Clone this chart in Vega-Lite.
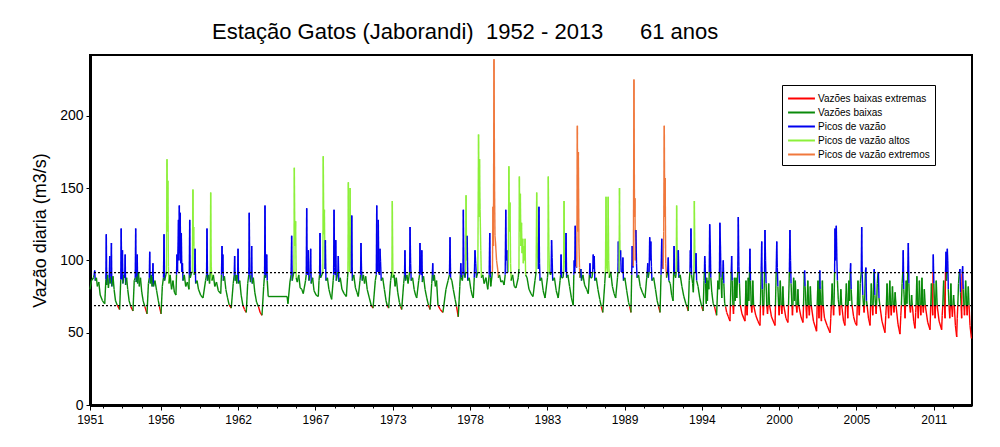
{
"$schema":"https://vega.github.io/schema/vega-lite/v6.json",
"width":882,"height":350,
"autosize":{"type":"none"},
"padding":{"left":90,"top":55,"right":28,"bottom":42},
"background":"white",
"config":{"font":"Liberation Sans","view":{"stroke":"black","strokeWidth":2}},
"title":{"text":"Estação Gatos (Jaborandi)\u00a0 1952 - 2013\u00a0\u00a0\u00a0\u00a0\u00a0 61 anos","anchor":"start","frame":"group","dx":122,"dy":25,"offset":14,"baseline":"bottom","fontSize":22,"fontWeight":"normal","color":"black"},
"layer":[
{"data":{"values":[
{"t":1951.70,"v":80,"c":"g"},{"t":1951.80,"v":86,"c":"g"},{"t":1951.95,"v":88,"c":"g"},{"t":1951.99,"v":90,"c":"b"},{"t":1952.03,"v":93,"c":"b"},{"t":1952.07,"v":86,"c":"g"},{"t":1952.15,"v":88,"c":"g"},{"t":1952.22,"v":82,"c":"g"},{"t":1952.32,"v":85,"c":"g"},{"t":1952.42,"v":76,"c":"g"},{"t":1952.58,"v":72,"c":"g"},
{"t":1952.74,"v":70,"c":"g"},{"t":1952.82,"v":87,"c":"b"},{"t":1952.85,"v":118,"c":"b"},{"t":1952.88,"v":83,"c":"g"},{"t":1952.94,"v":90,"c":"g"},{"t":1953.00,"v":81,"c":"g"},{"t":1953.06,"v":88,"c":"b"},{"t":1953.09,"v":103,"c":"b"},{"t":1953.12,"v":84,"c":"g"},{"t":1953.18,"v":89,"c":"b"},{"t":1953.21,"v":112,"c":"b"},{"t":1953.24,"v":82,"c":"g"},{"t":1953.32,"v":89,"c":"g"},{"t":1953.40,"v":80,"c":"g"},{"t":1953.50,"v":72,"c":"g"},{"t":1953.62,"v":69,"c":"r"},
{"t":1953.79,"v":66,"c":"g"},{"t":1953.87,"v":87,"c":"b"},{"t":1953.90,"v":122,"c":"b"},{"t":1953.94,"v":87,"c":"b"},{"t":1953.99,"v":107,"c":"b"},{"t":1954.02,"v":84,"c":"g"},{"t":1954.10,"v":90,"c":"g"},{"t":1954.15,"v":88,"c":"b"},{"t":1954.18,"v":104,"c":"b"},{"t":1954.21,"v":83,"c":"g"},{"t":1954.28,"v":88,"c":"g"},{"t":1954.36,"v":80,"c":"g"},{"t":1954.46,"v":72,"c":"g"},{"t":1954.58,"v":68,"c":"r"},
{"t":1954.73,"v":65,"c":"g"},{"t":1954.82,"v":86,"c":"g"},{"t":1954.89,"v":88,"c":"b"},{"t":1954.92,"v":122,"c":"b"},{"t":1954.96,"v":85,"c":"g"},{"t":1955.00,"v":89,"c":"b"},{"t":1955.03,"v":104,"c":"b"},{"t":1955.06,"v":84,"c":"g"},{"t":1955.12,"v":92,"c":"g"},{"t":1955.18,"v":82,"c":"g"},{"t":1955.26,"v":88,"c":"g"},{"t":1955.35,"v":78,"c":"g"},{"t":1955.45,"v":72,"c":"g"},{"t":1955.57,"v":68,"c":"r"},
{"t":1955.72,"v":63,"c":"g"},{"t":1955.82,"v":84,"c":"g"},{"t":1955.88,"v":88,"c":"b"},{"t":1955.91,"v":106,"c":"b"},{"t":1955.95,"v":84,"c":"g"},{"t":1956.02,"v":90,"c":"g"},{"t":1956.08,"v":82,"c":"g"},{"t":1956.11,"v":89,"c":"b"},{"t":1956.14,"v":98,"c":"b"},{"t":1956.18,"v":82,"c":"g"},{"t":1956.28,"v":86,"c":"g"},{"t":1956.40,"v":79,"c":"g"},{"t":1956.52,"v":72,"c":"g"},{"t":1956.60,"v":68,"c":"r"},
{"t":1956.71,"v":63,"c":"g"},{"t":1956.80,"v":82,"c":"g"},{"t":1956.88,"v":88,"c":"b"},{"t":1956.92,"v":118,"c":"b"},{"t":1956.96,"v":86,"c":"g"},{"t":1957.05,"v":90,"c":"g"},{"t":1957.09,"v":92,"c":"l"},{"t":1957.13,"v":170,"c":"l"},{"t":1957.16,"v":120,"c":"l"},{"t":1957.19,"v":155,"c":"l"},{"t":1957.23,"v":96,"c":"l"},{"t":1957.27,"v":84,"c":"g"},{"t":1957.35,"v":90,"c":"g"},{"t":1957.45,"v":80,"c":"g"},{"t":1957.55,"v":86,"c":"g"},{"t":1957.65,"v":78,"c":"g"},
{"t":1957.76,"v":76,"c":"g"},{"t":1957.80,"v":90,"c":"b"},{"t":1957.83,"v":104,"c":"b"},{"t":1957.87,"v":92,"c":"b"},{"t":1957.94,"v":128,"c":"b"},{"t":1957.97,"v":100,"c":"b"},{"t":1958.00,"v":138,"c":"b"},{"t":1958.03,"v":105,"c":"b"},{"t":1958.06,"v":133,"c":"b"},{"t":1958.10,"v":98,"c":"b"},{"t":1958.14,"v":119,"c":"b"},{"t":1958.18,"v":92,"c":"b"},{"t":1958.22,"v":98,"c":"b"},{"t":1958.26,"v":86,"c":"g"},{"t":1958.35,"v":90,"c":"g"},{"t":1958.45,"v":82,"c":"g"},{"t":1958.57,"v":85,"c":"g"},
{"t":1958.68,"v":80,"c":"g"},{"t":1958.70,"v":90,"c":"b"},{"t":1958.73,"v":128,"c":"b"},{"t":1958.77,"v":88,"c":"g"},{"t":1958.85,"v":91,"c":"g"},{"t":1958.92,"v":92,"c":"l"},{"t":1958.96,"v":149,"c":"l"},{"t":1958.99,"v":110,"c":"l"},{"t":1959.01,"v":123,"c":"l"},{"t":1959.05,"v":90,"c":"g"},{"t":1959.08,"v":92,"c":"b"},{"t":1959.11,"v":108,"c":"b"},{"t":1959.15,"v":84,"c":"g"},{"t":1959.25,"v":86,"c":"g"},{"t":1959.35,"v":80,"c":"g"},{"t":1959.50,"v":76,"c":"g"},
{"t":1959.67,"v":74,"c":"g"},{"t":1959.85,"v":86,"c":"g"},{"t":1959.92,"v":90,"c":"b"},{"t":1959.95,"v":122,"c":"b"},{"t":1959.99,"v":86,"c":"g"},{"t":1960.06,"v":90,"c":"g"},{"t":1960.13,"v":84,"c":"g"},{"t":1960.18,"v":92,"c":"l"},{"t":1960.21,"v":147,"c":"l"},{"t":1960.25,"v":96,"c":"l"},{"t":1960.30,"v":86,"c":"g"},{"t":1960.40,"v":90,"c":"g"},{"t":1960.50,"v":82,"c":"g"},{"t":1960.62,"v":85,"c":"g"},{"t":1960.75,"v":79,"c":"g"},
{"t":1960.92,"v":77,"c":"g"},{"t":1960.97,"v":90,"c":"b"},{"t":1961.01,"v":110,"c":"b"},{"t":1961.04,"v":92,"c":"b"},{"t":1961.07,"v":104,"c":"b"},{"t":1961.10,"v":86,"c":"g"},{"t":1961.18,"v":89,"c":"g"},{"t":1961.28,"v":80,"c":"g"},{"t":1961.40,"v":74,"c":"g"},{"t":1961.52,"v":69,"c":"r"},
{"t":1961.66,"v":67,"c":"g"},{"t":1961.80,"v":84,"c":"g"},{"t":1961.87,"v":90,"c":"b"},{"t":1961.90,"v":103,"c":"b"},{"t":1961.94,"v":86,"c":"g"},{"t":1962.00,"v":90,"c":"g"},{"t":1962.05,"v":84,"c":"g"},{"t":1962.11,"v":90,"c":"b"},{"t":1962.14,"v":108,"c":"b"},{"t":1962.18,"v":84,"c":"g"},{"t":1962.26,"v":86,"c":"g"},{"t":1962.36,"v":76,"c":"g"},{"t":1962.48,"v":69,"c":"r"},{"t":1962.60,"v":66,"c":"r"},
{"t":1962.72,"v":64,"c":"g"},{"t":1962.82,"v":84,"c":"g"},{"t":1962.90,"v":90,"c":"b"},{"t":1962.93,"v":133,"c":"b"},{"t":1962.97,"v":90,"c":"b"},{"t":1963.02,"v":85,"c":"g"},{"t":1963.07,"v":90,"c":"b"},{"t":1963.10,"v":110,"c":"b"},{"t":1963.14,"v":84,"c":"g"},{"t":1963.22,"v":88,"c":"g"},{"t":1963.32,"v":78,"c":"g"},{"t":1963.45,"v":71,"c":"g"},{"t":1963.58,"v":68,"c":"r"},{"t":1963.70,"v":64,"c":"r"},
{"t":1963.83,"v":62,"c":"g"},{"t":1963.95,"v":82,"c":"g"},{"t":1964.01,"v":90,"c":"b"},{"t":1964.04,"v":138,"c":"b"},{"t":1964.08,"v":88,"c":"g"},{"t":1964.13,"v":90,"c":"b"},{"t":1964.16,"v":104,"c":"b"},{"t":1964.20,"v":86,"c":"g"},{"t":1964.27,"v":75,"c":"g"},{"t":1965.60,"v":75,"c":"g"},
{"t":1965.66,"v":70,"c":"g"},{"t":1965.80,"v":85,"c":"g"},{"t":1965.88,"v":90,"c":"b"},{"t":1965.92,"v":117,"c":"b"},{"t":1965.96,"v":86,"c":"g"},{"t":1966.04,"v":90,"c":"g"},{"t":1966.08,"v":92,"c":"l"},{"t":1966.11,"v":164,"c":"l"},{"t":1966.15,"v":110,"c":"l"},{"t":1966.20,"v":127,"c":"l"},{"t":1966.24,"v":88,"c":"g"},{"t":1966.32,"v":85,"c":"g"},{"t":1966.42,"v":90,"c":"g"},{"t":1966.52,"v":81,"c":"g"},{"t":1966.63,"v":80,"c":"g"},
{"t":1966.74,"v":77,"c":"g"},{"t":1966.90,"v":86,"c":"g"},{"t":1966.95,"v":90,"c":"b"},{"t":1966.98,"v":136,"c":"b"},{"t":1967.02,"v":92,"c":"b"},{"t":1967.07,"v":90,"c":"b"},{"t":1967.10,"v":107,"c":"b"},{"t":1967.14,"v":86,"c":"g"},{"t":1967.22,"v":90,"c":"b"},{"t":1967.26,"v":108,"c":"b"},{"t":1967.30,"v":84,"c":"g"},{"t":1967.40,"v":88,"c":"g"},{"t":1967.50,"v":79,"c":"g"},{"t":1967.65,"v":76,"c":"g"},
{"t":1967.80,"v":75,"c":"g"},{"t":1967.85,"v":86,"c":"g"},{"t":1967.89,"v":90,"c":"b"},{"t":1967.92,"v":119,"c":"b"},{"t":1967.96,"v":88,"c":"g"},{"t":1968.05,"v":90,"c":"g"},{"t":1968.12,"v":92,"c":"l"},{"t":1968.15,"v":172,"c":"l"},{"t":1968.19,"v":118,"c":"l"},{"t":1968.23,"v":135,"c":"l"},{"t":1968.27,"v":94,"c":"b"},{"t":1968.30,"v":114,"c":"b"},{"t":1968.34,"v":86,"c":"g"},{"t":1968.44,"v":88,"c":"g"},{"t":1968.55,"v":80,"c":"g"},{"t":1968.65,"v":76,"c":"g"},
{"t":1968.74,"v":73,"c":"g"},{"t":1968.85,"v":86,"c":"g"},{"t":1968.88,"v":90,"c":"b"},{"t":1968.91,"v":135,"c":"b"},{"t":1968.95,"v":95,"c":"b"},{"t":1969.00,"v":90,"c":"b"},{"t":1969.03,"v":114,"c":"b"},{"t":1969.07,"v":86,"c":"g"},{"t":1969.15,"v":90,"c":"g"},{"t":1969.18,"v":92,"c":"b"},{"t":1969.21,"v":103,"c":"b"},{"t":1969.25,"v":85,"c":"g"},{"t":1969.35,"v":88,"c":"g"},{"t":1969.47,"v":80,"c":"g"},{"t":1969.62,"v":77,"c":"g"},
{"t":1969.78,"v":75,"c":"g"},{"t":1969.86,"v":88,"c":"g"},{"t":1969.89,"v":92,"c":"l"},{"t":1969.92,"v":154,"c":"l"},{"t":1969.96,"v":100,"c":"l"},{"t":1970.00,"v":92,"c":"l"},{"t":1970.04,"v":150,"c":"l"},{"t":1970.08,"v":105,"c":"l"},{"t":1970.13,"v":92,"c":"b"},{"t":1970.16,"v":131,"c":"b"},{"t":1970.20,"v":86,"c":"g"},{"t":1970.30,"v":90,"c":"g"},{"t":1970.42,"v":81,"c":"g"},{"t":1970.52,"v":78,"c":"g"},
{"t":1970.62,"v":75,"c":"g"},{"t":1970.74,"v":86,"c":"g"},{"t":1970.78,"v":90,"c":"b"},{"t":1970.81,"v":112,"c":"b"},{"t":1970.85,"v":93,"c":"b"},{"t":1970.90,"v":86,"c":"g"},{"t":1970.98,"v":90,"c":"g"},{"t":1971.06,"v":84,"c":"g"},{"t":1971.14,"v":89,"c":"g"},{"t":1971.25,"v":80,"c":"g"},{"t":1971.40,"v":74,"c":"g"},{"t":1971.53,"v":69,"c":"r"},
{"t":1971.66,"v":67,"c":"g"},{"t":1971.82,"v":86,"c":"g"},{"t":1971.89,"v":90,"c":"b"},{"t":1971.92,"v":138,"c":"b"},{"t":1971.96,"v":96,"c":"b"},{"t":1972.00,"v":92,"c":"b"},{"t":1972.03,"v":128,"c":"b"},{"t":1972.07,"v":92,"c":"b"},{"t":1972.12,"v":90,"c":"b"},{"t":1972.15,"v":108,"c":"b"},{"t":1972.19,"v":99,"c":"b"},{"t":1972.24,"v":86,"c":"g"},{"t":1972.34,"v":88,"c":"g"},{"t":1972.46,"v":80,"c":"g"},{"t":1972.58,"v":72,"c":"g"},{"t":1972.66,"v":69,"c":"r"},
{"t":1972.76,"v":67,"c":"g"},{"t":1972.90,"v":86,"c":"g"},{"t":1972.99,"v":92,"c":"l"},{"t":1973.02,"v":141,"c":"l"},{"t":1973.06,"v":88,"c":"g"},{"t":1973.14,"v":90,"c":"g"},{"t":1973.22,"v":82,"c":"g"},{"t":1973.30,"v":88,"c":"g"},{"t":1973.40,"v":78,"c":"g"},{"t":1973.52,"v":71,"c":"g"},{"t":1973.60,"v":68,"c":"r"},
{"t":1973.68,"v":66,"c":"g"},{"t":1973.82,"v":84,"c":"g"},{"t":1973.88,"v":90,"c":"b"},{"t":1973.91,"v":107,"c":"b"},{"t":1973.95,"v":86,"c":"g"},{"t":1974.05,"v":90,"c":"g"},{"t":1974.13,"v":84,"c":"g"},{"t":1974.24,"v":92,"c":"b"},{"t":1974.27,"v":123,"c":"b"},{"t":1974.31,"v":98,"c":"b"},{"t":1974.35,"v":86,"c":"g"},{"t":1974.45,"v":88,"c":"g"},{"t":1974.56,"v":80,"c":"g"},{"t":1974.66,"v":76,"c":"g"},
{"t":1974.74,"v":74,"c":"g"},{"t":1974.88,"v":86,"c":"g"},{"t":1974.94,"v":90,"c":"b"},{"t":1974.97,"v":112,"c":"b"},{"t":1975.01,"v":92,"c":"b"},{"t":1975.07,"v":90,"c":"b"},{"t":1975.10,"v":107,"c":"b"},{"t":1975.14,"v":85,"c":"g"},{"t":1975.22,"v":89,"c":"g"},{"t":1975.33,"v":80,"c":"g"},{"t":1975.45,"v":74,"c":"g"},{"t":1975.57,"v":69,"c":"r"},
{"t":1975.68,"v":66,"c":"g"},{"t":1975.80,"v":84,"c":"g"},{"t":1975.84,"v":90,"c":"b"},{"t":1975.87,"v":98,"c":"b"},{"t":1975.91,"v":86,"c":"g"},{"t":1975.98,"v":90,"c":"g"},{"t":1976.06,"v":82,"c":"g"},{"t":1976.14,"v":86,"c":"g"},{"t":1976.24,"v":69,"c":"r"},{"t":1976.40,"v":66,"c":"r"},
{"t":1976.59,"v":64,"c":"g"},{"t":1976.80,"v":80,"c":"g"},{"t":1976.95,"v":86,"c":"g"},{"t":1977.05,"v":90,"c":"b"},{"t":1977.09,"v":116,"c":"b"},{"t":1977.13,"v":88,"c":"g"},{"t":1977.22,"v":86,"c":"g"},{"t":1977.32,"v":80,"c":"g"},{"t":1977.45,"v":73,"c":"g"},{"t":1977.55,"v":68,"c":"r"},
{"t":1977.67,"v":61,"c":"g"},{"t":1977.78,"v":82,"c":"g"},{"t":1977.82,"v":90,"c":"b"},{"t":1977.85,"v":98,"c":"b"},{"t":1977.89,"v":88,"c":"g"},{"t":1977.96,"v":86,"c":"g"},{"t":1978.00,"v":90,"c":"b"},{"t":1978.03,"v":135,"c":"b"},{"t":1978.07,"v":92,"c":"b"},{"t":1978.15,"v":88,"c":"g"},{"t":1978.19,"v":92,"c":"l"},{"t":1978.22,"v":145,"c":"l"},{"t":1978.26,"v":100,"c":"l"},{"t":1978.30,"v":117,"c":"b"},{"t":1978.34,"v":86,"c":"g"},{"t":1978.44,"v":88,"c":"g"},{"t":1978.56,"v":80,"c":"g"},{"t":1978.65,"v":76,"c":"g"},
{"t":1978.73,"v":74,"c":"g"},{"t":1978.80,"v":88,"c":"b"},{"t":1978.85,"v":107,"c":"b"},{"t":1978.90,"v":98,"c":"b"},{"t":1978.95,"v":88,"c":"g"},{"t":1979.05,"v":92,"c":"l"},{"t":1979.10,"v":187,"c":"l"},{"t":1979.14,"v":130,"c":"l"},{"t":1979.17,"v":170,"c":"l"},{"t":1979.21,"v":135,"c":"l"},{"t":1979.26,"v":107,"c":"l"},{"t":1979.30,"v":88,"c":"g"},{"t":1979.40,"v":90,"c":"g"},{"t":1979.50,"v":84,"c":"g"},{"t":1979.62,"v":88,"c":"g"},{"t":1979.75,"v":80,"c":"g"},{"t":1979.85,"v":90,"c":"b"},{"t":1979.89,"v":119,"c":"b"},{"t":1979.93,"v":88,"c":"g"},
{"t":1979.96,"v":82,"c":"g"},{"t":1980.08,"v":92,"c":"o"},{"t":1980.12,"v":137,"c":"o"},{"t":1980.15,"v":110,"c":"o"},{"t":1980.19,"v":239,"c":"o"},{"t":1980.23,"v":150,"c":"o"},{"t":1980.26,"v":117,"c":"o"},{"t":1980.30,"v":112,"c":"o"},{"t":1980.37,"v":100,"c":"o"},{"t":1980.45,"v":94,"c":"o"},{"t":1980.50,"v":88,"c":"g"},{"t":1980.58,"v":90,"c":"g"},{"t":1980.68,"v":85,"c":"g"},{"t":1980.80,"v":86,"c":"g"},
{"t":1980.90,"v":83,"c":"g"},{"t":1980.98,"v":90,"c":"b"},{"t":1981.02,"v":135,"c":"b"},{"t":1981.06,"v":100,"c":"b"},{"t":1981.10,"v":107,"c":"b"},{"t":1981.14,"v":92,"c":"b"},{"t":1981.20,"v":92,"c":"l"},{"t":1981.24,"v":165,"c":"l"},{"t":1981.28,"v":120,"c":"l"},{"t":1981.32,"v":140,"c":"l"},{"t":1981.36,"v":98,"c":"l"},{"t":1981.40,"v":86,"c":"g"},{"t":1981.50,"v":90,"c":"g"},{"t":1981.62,"v":82,"c":"g"},
{"t":1981.74,"v":81,"c":"g"},{"t":1981.90,"v":88,"c":"g"},{"t":1981.95,"v":94,"c":"l"},{"t":1981.98,"v":158,"c":"l"},{"t":1982.02,"v":120,"c":"l"},{"t":1982.05,"v":146,"c":"l"},{"t":1982.09,"v":110,"c":"l"},{"t":1982.13,"v":126,"c":"l"},{"t":1982.17,"v":105,"c":"l"},{"t":1982.22,"v":115,"c":"l"},{"t":1982.26,"v":98,"c":"l"},{"t":1982.31,"v":110,"c":"l"},{"t":1982.35,"v":100,"c":"l"},{"t":1982.38,"v":115,"c":"l"},{"t":1982.42,"v":90,"c":"g"},{"t":1982.52,"v":88,"c":"g"},{"t":1982.66,"v":80,"c":"g"},{"t":1982.80,"v":77,"c":"g"},
{"t":1982.94,"v":75,"c":"g"},{"t":1983.08,"v":86,"c":"g"},{"t":1983.16,"v":92,"c":"l"},{"t":1983.20,"v":147,"c":"l"},{"t":1983.24,"v":110,"c":"l"},{"t":1983.32,"v":94,"c":"b"},{"t":1983.36,"v":137,"c":"b"},{"t":1983.40,"v":98,"c":"b"},{"t":1983.44,"v":86,"c":"g"},{"t":1983.54,"v":88,"c":"g"},{"t":1983.66,"v":79,"c":"g"},
{"t":1983.79,"v":74,"c":"g"},{"t":1983.96,"v":88,"c":"g"},{"t":1983.99,"v":92,"c":"l"},{"t":1984.02,"v":158,"c":"l"},{"t":1984.06,"v":110,"c":"l"},{"t":1984.10,"v":92,"c":"g"},{"t":1984.18,"v":90,"c":"g"},{"t":1984.22,"v":92,"c":"b"},{"t":1984.25,"v":114,"c":"b"},{"t":1984.29,"v":102,"c":"b"},{"t":1984.33,"v":86,"c":"g"},{"t":1984.45,"v":88,"c":"g"},{"t":1984.58,"v":79,"c":"g"},
{"t":1984.72,"v":74,"c":"g"},{"t":1984.85,"v":86,"c":"g"},{"t":1984.89,"v":90,"c":"b"},{"t":1984.92,"v":104,"c":"b"},{"t":1984.96,"v":88,"c":"g"},{"t":1985.06,"v":88,"c":"g"},{"t":1985.10,"v":92,"c":"l"},{"t":1985.13,"v":141,"c":"l"},{"t":1985.17,"v":100,"c":"l"},{"t":1985.24,"v":92,"c":"b"},{"t":1985.27,"v":119,"c":"b"},{"t":1985.31,"v":88,"c":"g"},{"t":1985.40,"v":90,"c":"g"},{"t":1985.52,"v":82,"c":"g"},{"t":1985.65,"v":74,"c":"g"},
{"t":1985.78,"v":69,"c":"g"},{"t":1985.82,"v":90,"c":"b"},{"t":1985.85,"v":100,"c":"b"},{"t":1985.88,"v":92,"c":"b"},{"t":1985.92,"v":124,"c":"b"},{"t":1985.96,"v":96,"c":"b"},{"t":1986.03,"v":95,"c":"o"},{"t":1986.07,"v":193,"c":"o"},{"t":1986.10,"v":120,"c":"o"},{"t":1986.14,"v":175,"c":"o"},{"t":1986.18,"v":112,"c":"o"},{"t":1986.22,"v":95,"c":"o"},{"t":1986.26,"v":88,"c":"g"},{"t":1986.32,"v":94,"c":"b"},{"t":1986.36,"v":86,"c":"g"},{"t":1986.46,"v":90,"c":"g"},{"t":1986.58,"v":83,"c":"g"},{"t":1986.72,"v":80,"c":"g"},
{"t":1986.84,"v":77,"c":"g"},{"t":1986.92,"v":90,"c":"b"},{"t":1986.96,"v":98,"c":"b"},{"t":1987.00,"v":88,"c":"g"},{"t":1987.10,"v":88,"c":"g"},{"t":1987.15,"v":92,"c":"b"},{"t":1987.19,"v":104,"c":"b"},{"t":1987.23,"v":94,"c":"b"},{"t":1987.26,"v":103,"c":"b"},{"t":1987.30,"v":86,"c":"g"},{"t":1987.40,"v":88,"c":"g"},{"t":1987.52,"v":80,"c":"g"},{"t":1987.65,"v":73,"c":"g"},{"t":1987.76,"v":68,"c":"r"},
{"t":1987.86,"v":64,"c":"g"},{"t":1988.00,"v":84,"c":"g"},{"t":1988.05,"v":92,"c":"l"},{"t":1988.09,"v":144,"c":"l"},{"t":1988.13,"v":96,"c":"l"},{"t":1988.20,"v":92,"c":"l"},{"t":1988.24,"v":144,"c":"l"},{"t":1988.28,"v":100,"c":"l"},{"t":1988.32,"v":88,"c":"g"},{"t":1988.42,"v":92,"c":"g"},{"t":1988.54,"v":82,"c":"g"},{"t":1988.66,"v":77,"c":"g"},
{"t":1988.77,"v":74,"c":"g"},{"t":1988.90,"v":88,"c":"g"},{"t":1988.93,"v":92,"c":"b"},{"t":1988.96,"v":113,"c":"b"},{"t":1988.99,"v":96,"c":"b"},{"t":1989.01,"v":92,"c":"l"},{"t":1989.04,"v":150,"c":"l"},{"t":1989.08,"v":100,"c":"l"},{"t":1989.12,"v":107,"c":"b"},{"t":1989.16,"v":92,"c":"b"},{"t":1989.24,"v":92,"c":"b"},{"t":1989.28,"v":102,"c":"b"},{"t":1989.32,"v":86,"c":"g"},{"t":1989.42,"v":88,"c":"g"},{"t":1989.55,"v":79,"c":"g"},{"t":1989.68,"v":71,"c":"g"},{"t":1989.76,"v":68,"c":"r"},
{"t":1989.85,"v":64,"c":"g"},{"t":1989.90,"v":90,"c":"b"},{"t":1989.94,"v":110,"c":"b"},{"t":1989.98,"v":95,"c":"b"},{"t":1990.02,"v":96,"c":"o"},{"t":1990.06,"v":225,"c":"o"},{"t":1990.10,"v":130,"c":"o"},{"t":1990.13,"v":143,"c":"o"},{"t":1990.16,"v":100,"c":"o"},{"t":1990.20,"v":121,"c":"b"},{"t":1990.24,"v":98,"c":"b"},{"t":1990.28,"v":88,"c":"g"},{"t":1990.38,"v":90,"c":"g"},{"t":1990.50,"v":82,"c":"g"},{"t":1990.65,"v":78,"c":"g"},
{"t":1990.84,"v":74,"c":"g"},{"t":1990.96,"v":88,"c":"g"},{"t":1991.00,"v":92,"c":"b"},{"t":1991.03,"v":98,"c":"b"},{"t":1991.07,"v":88,"c":"g"},{"t":1991.13,"v":92,"c":"b"},{"t":1991.17,"v":116,"c":"b"},{"t":1991.21,"v":100,"c":"b"},{"t":1991.25,"v":113,"c":"b"},{"t":1991.29,"v":96,"c":"b"},{"t":1991.33,"v":86,"c":"g"},{"t":1991.45,"v":88,"c":"g"},{"t":1991.58,"v":80,"c":"g"},{"t":1991.70,"v":72,"c":"g"},{"t":1991.80,"v":68,"c":"r"},
{"t":1991.90,"v":64,"c":"g"},{"t":1991.97,"v":90,"c":"b"},{"t":1992.02,"v":115,"c":"b"},{"t":1992.06,"v":96,"c":"b"},{"t":1992.12,"v":94,"c":"o"},{"t":1992.16,"v":120,"c":"o"},{"t":1992.20,"v":193,"c":"o"},{"t":1992.23,"v":130,"c":"o"},{"t":1992.26,"v":157,"c":"o"},{"t":1992.30,"v":98,"c":"o"},{"t":1992.36,"v":88,"c":"g"},{"t":1992.44,"v":92,"c":"b"},{"t":1992.48,"v":102,"c":"b"},{"t":1992.52,"v":86,"c":"g"},{"t":1992.62,"v":84,"c":"g"},{"t":1992.72,"v":76,"c":"g"},
{"t":1992.82,"v":72,"c":"g"},{"t":1992.86,"v":92,"c":"b"},{"t":1992.89,"v":110,"c":"b"},{"t":1992.93,"v":90,"c":"g"},{"t":1993.00,"v":88,"c":"g"},{"t":1993.04,"v":92,"c":"l"},{"t":1993.07,"v":138,"c":"l"},{"t":1993.11,"v":100,"c":"l"},{"t":1993.16,"v":92,"c":"b"},{"t":1993.19,"v":107,"c":"b"},{"t":1993.23,"v":88,"c":"g"},{"t":1993.32,"v":90,"c":"g"},{"t":1993.44,"v":82,"c":"g"},{"t":1993.58,"v":75,"c":"g"},{"t":1993.72,"v":70,"c":"g"},{"t":1993.80,"v":68,"c":"r"},
{"t":1993.89,"v":65,"c":"g"},{"t":1993.96,"v":86,"c":"g"},{"t":1994.01,"v":92,"c":"b"},{"t":1994.04,"v":107,"c":"b"},{"t":1994.06,"v":95,"c":"b"},{"t":1994.08,"v":122,"c":"b"},{"t":1994.12,"v":90,"c":"g"},{"t":1994.20,"v":84,"c":"g"},{"t":1994.25,"v":78,"c":"g"},{"t":1994.29,"v":92,"c":"l"},{"t":1994.32,"v":141,"c":"l"},{"t":1994.36,"v":100,"c":"l"},{"t":1994.41,"v":92,"c":"b"},{"t":1994.44,"v":105,"c":"b"},{"t":1994.48,"v":86,"c":"g"},{"t":1994.58,"v":82,"c":"g"},{"t":1994.70,"v":74,"c":"g"},{"t":1994.84,"v":68,"c":"r"},
{"t":1994.94,"v":65,"c":"g"},{"t":1995.00,"v":86,"c":"g"},{"t":1995.03,"v":92,"c":"b"},{"t":1995.05,"v":103,"c":"b"},{"t":1995.08,"v":98,"c":"b"},{"t":1995.11,"v":84,"c":"g"},{"t":1995.16,"v":70,"c":"g"},{"t":1995.19,"v":88,"c":"g"},{"t":1995.24,"v":72,"c":"g"},{"t":1995.28,"v":86,"c":"g"},{"t":1995.34,"v":80,"c":"g"},{"t":1995.37,"v":92,"c":"b"},{"t":1995.40,"v":125,"c":"b"},{"t":1995.44,"v":112,"c":"b"},{"t":1995.48,"v":88,"c":"g"},{"t":1995.55,"v":78,"c":"g"},{"t":1995.65,"v":70,"c":"g"},{"t":1995.74,"v":68,"c":"r"},
{"t":1995.89,"v":62,"c":"g"},{"t":1995.98,"v":86,"c":"g"},{"t":1996.06,"v":80,"c":"g"},{"t":1996.09,"v":92,"c":"b"},{"t":1996.12,"v":126,"c":"b"},{"t":1996.16,"v":110,"c":"b"},{"t":1996.20,"v":88,"c":"g"},{"t":1996.25,"v":74,"c":"g"},{"t":1996.28,"v":86,"c":"g"},{"t":1996.33,"v":92,"c":"b"},{"t":1996.36,"v":100,"c":"b"},{"t":1996.40,"v":84,"c":"g"},{"t":1996.46,"v":70,"c":"g"},{"t":1996.52,"v":68,"c":"r"},{"t":1996.60,"v":64,"c":"r"},{"t":1996.72,"v":61,"c":"r"},
{"t":1996.83,"v":58,"c":"r"},{"t":1996.86,"v":69,"c":"g"},{"t":1996.92,"v":92,"c":"b"},{"t":1996.95,"v":103,"c":"b"},{"t":1996.99,"v":86,"c":"g"},{"t":1997.04,"v":69,"c":"r"},{"t":1997.08,"v":63,"c":"r"},{"t":1997.11,"v":69,"c":"g"},{"t":1997.15,"v":88,"c":"g"},{"t":1997.20,"v":72,"c":"g"},{"t":1997.26,"v":88,"c":"g"},{"t":1997.31,"v":74,"c":"g"},{"t":1997.38,"v":92,"c":"b"},{"t":1997.42,"v":130,"c":"b"},{"t":1997.46,"v":96,"c":"b"},{"t":1997.50,"v":84,"c":"g"},{"t":1997.56,"v":69,"c":"r"},{"t":1997.68,"v":63,"c":"r"},
{"t":1997.89,"v":58,"c":"r"},{"t":1997.92,"v":69,"c":"g"},{"t":1997.96,"v":86,"c":"g"},{"t":1998.00,"v":69,"c":"r"},{"t":1998.04,"v":62,"c":"r"},{"t":1998.07,"v":69,"c":"g"},{"t":1998.12,"v":88,"c":"g"},{"t":1998.16,"v":72,"c":"g"},{"t":1998.21,"v":92,"c":"b"},{"t":1998.24,"v":108,"c":"b"},{"t":1998.28,"v":86,"c":"g"},{"t":1998.33,"v":69,"c":"r"},{"t":1998.37,"v":64,"c":"r"},{"t":1998.40,"v":69,"c":"g"},{"t":1998.44,"v":86,"c":"g"},{"t":1998.50,"v":69,"c":"r"},{"t":1998.65,"v":62,"c":"r"},{"t":1998.80,"v":58,"c":"r"},
{"t":1998.95,"v":55,"c":"r"},{"t":1998.98,"v":69,"c":"g"},{"t":1999.03,"v":92,"c":"b"},{"t":1999.07,"v":113,"c":"b"},{"t":1999.11,"v":80,"c":"g"},{"t":1999.15,"v":69,"c":"r"},{"t":1999.19,"v":62,"c":"r"},{"t":1999.22,"v":69,"c":"g"},{"t":1999.27,"v":92,"c":"b"},{"t":1999.30,"v":121,"c":"b"},{"t":1999.34,"v":100,"c":"b"},{"t":1999.38,"v":84,"c":"g"},{"t":1999.43,"v":69,"c":"r"},{"t":1999.48,"v":63,"c":"r"},{"t":1999.52,"v":69,"c":"g"},{"t":1999.56,"v":84,"c":"g"},{"t":1999.62,"v":69,"c":"r"},{"t":1999.76,"v":61,"c":"r"},
{"t":2000.01,"v":55,"c":"r"},{"t":2000.04,"v":69,"c":"g"},{"t":2000.09,"v":92,"c":"b"},{"t":2000.13,"v":113,"c":"b"},{"t":2000.17,"v":95,"c":"b"},{"t":2000.21,"v":82,"c":"g"},{"t":2000.26,"v":69,"c":"r"},{"t":2000.30,"v":62,"c":"r"},{"t":2000.33,"v":69,"c":"g"},{"t":2000.38,"v":86,"c":"g"},{"t":2000.44,"v":69,"c":"r"},{"t":2000.49,"v":63,"c":"r"},{"t":2000.52,"v":69,"c":"g"},{"t":2000.56,"v":82,"c":"g"},{"t":2000.62,"v":69,"c":"r"},{"t":2000.78,"v":60,"c":"r"},
{"t":2000.92,"v":57,"c":"r"},{"t":2000.96,"v":69,"c":"g"},{"t":2001.02,"v":92,"c":"b"},{"t":2001.06,"v":121,"c":"b"},{"t":2001.10,"v":100,"c":"b"},{"t":2001.14,"v":84,"c":"g"},{"t":2001.20,"v":69,"c":"r"},{"t":2001.24,"v":62,"c":"r"},{"t":2001.27,"v":69,"c":"g"},{"t":2001.32,"v":88,"c":"g"},{"t":2001.38,"v":72,"c":"g"},{"t":2001.44,"v":86,"c":"g"},{"t":2001.50,"v":69,"c":"r"},{"t":2001.55,"v":64,"c":"r"},{"t":2001.58,"v":69,"c":"g"},{"t":2001.62,"v":80,"c":"g"},{"t":2001.68,"v":69,"c":"r"},{"t":2001.84,"v":61,"c":"r"},
{"t":2001.98,"v":57,"c":"r"},{"t":2002.02,"v":69,"c":"g"},{"t":2002.07,"v":91,"c":"b"},{"t":2002.10,"v":93,"c":"b"},{"t":2002.13,"v":82,"c":"g"},{"t":2002.19,"v":69,"c":"r"},{"t":2002.24,"v":60,"c":"r"},{"t":2002.27,"v":69,"c":"g"},{"t":2002.32,"v":86,"c":"g"},{"t":2002.38,"v":69,"c":"r"},{"t":2002.43,"v":62,"c":"r"},{"t":2002.46,"v":69,"c":"g"},{"t":2002.50,"v":82,"c":"g"},{"t":2002.56,"v":69,"c":"r"},{"t":2002.72,"v":58,"c":"r"},
{"t":2002.94,"v":51,"c":"r"},{"t":2002.98,"v":69,"c":"g"},{"t":2003.04,"v":86,"c":"g"},{"t":2003.08,"v":69,"c":"r"},{"t":2003.11,"v":60,"c":"r"},{"t":2003.13,"v":69,"c":"g"},{"t":2003.15,"v":91,"c":"b"},{"t":2003.17,"v":93,"c":"b"},{"t":2003.19,"v":80,"c":"g"},{"t":2003.24,"v":69,"c":"r"},{"t":2003.28,"v":58,"c":"r"},{"t":2003.31,"v":69,"c":"g"},{"t":2003.35,"v":86,"c":"g"},{"t":2003.40,"v":69,"c":"r"},{"t":2003.50,"v":60,"c":"r"},{"t":2003.68,"v":55,"c":"r"},
{"t":2003.89,"v":50,"c":"r"},{"t":2003.94,"v":60,"c":"r"},{"t":2003.98,"v":69,"c":"g"},{"t":2004.04,"v":84,"c":"g"},{"t":2004.10,"v":69,"c":"r"},{"t":2004.14,"v":62,"c":"r"},{"t":2004.17,"v":69,"c":"g"},{"t":2004.21,"v":92,"c":"b"},{"t":2004.24,"v":122,"c":"b"},{"t":2004.28,"v":100,"c":"b"},{"t":2004.33,"v":124,"c":"b"},{"t":2004.37,"v":101,"c":"b"},{"t":2004.41,"v":86,"c":"g"},{"t":2004.47,"v":73,"c":"g"},{"t":2004.52,"v":69,"c":"r"},{"t":2004.57,"v":62,"c":"r"},{"t":2004.60,"v":69,"c":"g"},{"t":2004.65,"v":80,"c":"g"},{"t":2004.71,"v":69,"c":"r"},{"t":2004.84,"v":58,"c":"r"},
{"t":2004.94,"v":55,"c":"r"},{"t":2004.98,"v":69,"c":"g"},{"t":2005.04,"v":84,"c":"g"},{"t":2005.10,"v":69,"c":"r"},{"t":2005.14,"v":60,"c":"r"},{"t":2005.17,"v":69,"c":"g"},{"t":2005.22,"v":86,"c":"g"},{"t":2005.27,"v":72,"c":"g"},{"t":2005.31,"v":92,"c":"b"},{"t":2005.34,"v":98,"c":"b"},{"t":2005.38,"v":80,"c":"g"},{"t":2005.44,"v":69,"c":"r"},{"t":2005.55,"v":61,"c":"r"},{"t":2005.66,"v":57,"c":"r"},
{"t":2005.77,"v":55,"c":"r"},{"t":2005.81,"v":69,"c":"g"},{"t":2005.86,"v":86,"c":"g"},{"t":2005.91,"v":69,"c":"r"},{"t":2005.95,"v":62,"c":"r"},{"t":2005.98,"v":69,"c":"g"},{"t":2006.02,"v":84,"c":"g"},{"t":2006.09,"v":92,"c":"b"},{"t":2006.12,"v":123,"c":"b"},{"t":2006.16,"v":90,"c":"b"},{"t":2006.20,"v":76,"c":"g"},{"t":2006.25,"v":69,"c":"r"},{"t":2006.29,"v":64,"c":"r"},{"t":2006.32,"v":69,"c":"g"},{"t":2006.38,"v":92,"c":"b"},{"t":2006.42,"v":95,"c":"b"},{"t":2006.46,"v":72,"c":"g"},{"t":2006.50,"v":69,"c":"r"},{"t":2006.60,"v":60,"c":"r"},
{"t":2006.71,"v":55,"c":"r"},{"t":2006.75,"v":69,"c":"g"},{"t":2006.80,"v":84,"c":"g"},{"t":2006.86,"v":69,"c":"r"},{"t":2006.90,"v":62,"c":"r"},{"t":2006.93,"v":69,"c":"g"},{"t":2006.98,"v":92,"c":"b"},{"t":2007.01,"v":94,"c":"b"},{"t":2007.05,"v":76,"c":"g"},{"t":2007.10,"v":69,"c":"r"},{"t":2007.14,"v":63,"c":"r"},{"t":2007.17,"v":69,"c":"g"},{"t":2007.22,"v":84,"c":"g"},{"t":2007.27,"v":91,"c":"b"},{"t":2007.30,"v":92,"c":"b"},{"t":2007.34,"v":74,"c":"g"},{"t":2007.40,"v":69,"c":"r"},{"t":2007.55,"v":58,"c":"r"},
{"t":2007.76,"v":50,"c":"r"},{"t":2007.82,"v":62,"c":"r"},{"t":2007.86,"v":69,"c":"g"},{"t":2007.91,"v":84,"c":"g"},{"t":2007.97,"v":69,"c":"r"},{"t":2008.02,"v":60,"c":"r"},{"t":2008.05,"v":69,"c":"g"},{"t":2008.10,"v":86,"c":"g"},{"t":2008.16,"v":69,"c":"r"},{"t":2008.21,"v":62,"c":"r"},{"t":2008.24,"v":69,"c":"g"},{"t":2008.29,"v":82,"c":"g"},{"t":2008.35,"v":69,"c":"r"},{"t":2008.40,"v":64,"c":"r"},{"t":2008.43,"v":69,"c":"g"},{"t":2008.48,"v":78,"c":"g"},{"t":2008.54,"v":69,"c":"r"},{"t":2008.68,"v":56,"c":"r"},
{"t":2008.82,"v":49,"c":"r"},{"t":2008.88,"v":62,"c":"r"},{"t":2008.92,"v":69,"c":"g"},{"t":2008.97,"v":84,"c":"g"},{"t":2009.02,"v":92,"c":"b"},{"t":2009.05,"v":107,"c":"b"},{"t":2009.09,"v":80,"c":"g"},{"t":2009.14,"v":69,"c":"r"},{"t":2009.18,"v":60,"c":"r"},{"t":2009.21,"v":69,"c":"g"},{"t":2009.26,"v":86,"c":"g"},{"t":2009.31,"v":70,"c":"g"},{"t":2009.37,"v":92,"c":"b"},{"t":2009.41,"v":112,"c":"b"},{"t":2009.45,"v":84,"c":"g"},{"t":2009.50,"v":69,"c":"r"},{"t":2009.56,"v":64,"c":"r"},{"t":2009.60,"v":69,"c":"g"},{"t":2009.64,"v":76,"c":"g"},{"t":2009.69,"v":69,"c":"r"},{"t":2009.79,"v":58,"c":"r"},
{"t":2009.88,"v":53,"c":"r"},{"t":2009.93,"v":64,"c":"r"},{"t":2009.96,"v":69,"c":"g"},{"t":2010.01,"v":89,"c":"g"},{"t":2010.07,"v":69,"c":"r"},{"t":2010.11,"v":60,"c":"r"},{"t":2010.14,"v":69,"c":"g"},{"t":2010.19,"v":86,"c":"g"},{"t":2010.25,"v":69,"c":"r"},{"t":2010.29,"v":62,"c":"r"},{"t":2010.32,"v":69,"c":"g"},{"t":2010.37,"v":88,"c":"g"},{"t":2010.43,"v":69,"c":"r"},{"t":2010.47,"v":64,"c":"r"},{"t":2010.50,"v":69,"c":"g"},{"t":2010.54,"v":80,"c":"g"},{"t":2010.60,"v":69,"c":"r"},{"t":2010.78,"v":57,"c":"r"},
{"t":2010.94,"v":52,"c":"r"},{"t":2010.99,"v":69,"c":"g"},{"t":2011.04,"v":84,"c":"g"},{"t":2011.09,"v":69,"c":"r"},{"t":2011.13,"v":62,"c":"r"},{"t":2011.15,"v":92,"c":"b"},{"t":2011.17,"v":104,"c":"b"},{"t":2011.21,"v":84,"c":"g"},{"t":2011.26,"v":69,"c":"r"},{"t":2011.30,"v":60,"c":"r"},{"t":2011.33,"v":69,"c":"g"},{"t":2011.38,"v":86,"c":"g"},{"t":2011.44,"v":69,"c":"r"},{"t":2011.58,"v":58,"c":"r"},
{"t":2011.76,"v":52,"c":"r"},{"t":2011.80,"v":62,"c":"r"},{"t":2011.84,"v":69,"c":"g"},{"t":2011.90,"v":86,"c":"g"},{"t":2011.96,"v":69,"c":"r"},{"t":2012.00,"v":60,"c":"r"},{"t":2012.03,"v":92,"c":"b"},{"t":2012.07,"v":106,"c":"b"},{"t":2012.10,"v":86,"c":"g"},{"t":2012.13,"v":92,"c":"b"},{"t":2012.16,"v":108,"c":"b"},{"t":2012.19,"v":100,"c":"b"},{"t":2012.23,"v":80,"c":"g"},{"t":2012.28,"v":69,"c":"r"},{"t":2012.33,"v":60,"c":"r"},{"t":2012.37,"v":69,"c":"g"},{"t":2012.41,"v":84,"c":"g"},{"t":2012.46,"v":69,"c":"r"},{"t":2012.52,"v":61,"c":"r"},{"t":2012.56,"v":69,"c":"g"},{"t":2012.60,"v":76,"c":"g"},{"t":2012.65,"v":69,"c":"r"},{"t":2012.73,"v":55,"c":"r"},
{"t":2012.82,"v":47,"c":"r"},{"t":2012.86,"v":60,"c":"r"},{"t":2012.90,"v":69,"c":"g"},{"t":2012.95,"v":84,"c":"g"},{"t":2013.00,"v":91,"c":"b"},{"t":2013.05,"v":94,"c":"b"},{"t":2013.09,"v":78,"c":"g"},{"t":2013.13,"v":69,"c":"r"},{"t":2013.17,"v":60,"c":"r"},{"t":2013.20,"v":91,"c":"b"},{"t":2013.24,"v":96,"c":"b"},{"t":2013.28,"v":80,"c":"g"},{"t":2013.33,"v":69,"c":"r"},{"t":2013.37,"v":62,"c":"r"},{"t":2013.40,"v":69,"c":"g"},{"t":2013.45,"v":86,"c":"g"},{"t":2013.52,"v":69,"c":"r"},{"t":2013.56,"v":62,"c":"r"},{"t":2013.59,"v":69,"c":"g"},{"t":2013.64,"v":82,"c":"g"},{"t":2013.69,"v":69,"c":"r"},{"t":2013.76,"v":55,"c":"r"},{"t":2013.86,"v":46,"c":"r"}
]},
"transform":[{"window":[{"op":"lead","field":"t","as":"t2"},{"op":"lead","field":"v","as":"v2"}],"sort":[{"field":"t","order":"ascending"}]},{"filter":"datum.t2 != null"}],
"mark":{"type":"rule","strokeWidth":1.4},
"encoding":{
"x":{"field":"t","type":"quantitative","scale":{"domain":[1951.7,2013.9],"nice":false,"zero":false},
"axis":{"title":null,"values":[1951.7,1952.61,1953.98,1955.34,1956.7,1958.06,1959.43,1960.79,1962.15,1963.51,1964.88,1966.24,1967.6,1968.96,1970.33,1971.69,1973.05,1974.41,1975.78,1977.14,1978.5,1979.86,1981.23,1982.59,1983.95,1985.31,1986.68,1988.04,1989.4,1990.76,1992.13,1993.49,1994.85,1996.21,1997.58,1998.94,2000.3,2001.66,2003.03,2004.39,2005.75,2007.11,2008.48,2009.84,2011.2,2012.56],
"labelExpr":"(datum.value < 1952 || abs((datum.value-1956.7)/5.45 - round((datum.value-1956.7)/5.45)) < 0.01) ? floor(datum.value) : ''",
"tickSize":{"condition":{"test":"datum.value < 1952 || abs((datum.value-1956.7)/5.45 - round((datum.value-1956.7)/5.45)) < 0.01","value":5},"value":3},
"labelFontSize":12,"labelColor":"black","labelPadding":4,"tickColor":"black","domainColor":"black","domainWidth":3,"grid":false,"labelFlush":false,"labelOverlap":false}},
"x2":{"field":"t2"},
"y":{"field":"v","type":"quantitative","scale":{"domain":[0,242],"nice":false},
"axis":{"title":"Vazão diaria (m3/s)","titleFontSize":18,"titleFontWeight":"normal","titleColor":"black","titlePadding":10,"values":[0,50,100,150,200],"labelFontSize":14,"labelColor":"black","labelPadding":3,"tickSize":4,"tickColor":"black","domainColor":"black","domainWidth":3,"grid":false}},
"y2":{"field":"v2"},
"color":{"field":"c","type":"nominal","scale":{"domain":["r","g","b","l","o"],"range":["#ff0000","#0a8a0a","#0000ee","#8cf03a","#f0783c"]},
"legend":{"title":null,"orient":"none","legendX":692,"legendY":30,"direction":"vertical","strokeColor":"black","fillColor":"white","padding":5,"symbolType":"M-1.9,0H1.9","symbolSize":200,"symbolStrokeWidth":2,"symbolOffset":6,"labelFontSize":10,"labelColor":"black","rowPadding":0,"labelOffset":8,
"labelExpr":"datum.label=='r'?'Vazões baixas extremas':datum.label=='g'?'Vazões baixas':datum.label=='b'?'Picos de vazão':datum.label=='l'?'Picos de vazão altos':'Picos de vazão extremos'"}}
}},
{"data":{"values":[{"y":91.5},{"y":68.7}]},"mark":{"type":"rule","strokeDash":[2,2],"color":"black","strokeWidth":1.3},"encoding":{"y":{"field":"y","type":"quantitative"}}}
]
}
